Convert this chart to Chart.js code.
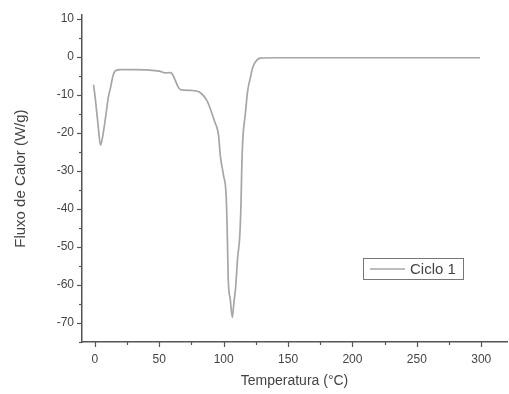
<!DOCTYPE html>
<html>
<head>
<meta charset="utf-8">
<script src="https://cdn.jsdelivr.net/npm/chart.js@4/dist/chart.umd.min.js"></script>
<style>
  html, body { margin: 0; padding: 0; background: #fff; }
  #wrap { width: 509px; height: 394px; }
</style>
</head>
<body>
<div id="wrap"><canvas id="dsc" width="509" height="394"></canvas></div>
<script>
// Curva DSC - ciclo 1
const temperatura = [-1, 0.5, 2.5, 4.4, 6, 8.3, 10.5, 12.2, 14, 16, 20, 30, 40, 50, 55, 58, 60, 62.6, 64.5, 66.4,
  70, 75, 78, 82, 87, 90, 93, 96, 97.4, 99.8, 102, 102.9, 103.5, 105.2, 106.7, 108, 109.3, 110.8, 112.5, 113.5,
  114, 114.8, 116.8, 118.6, 120.7, 122.5, 124.6, 128.4, 140, 200, 250, 299];
const fluxoCalor = [-7.3, -11.5, -18, -23.2, -21, -15.9, -10.5, -8, -5, -3.6, -3.3, -3.3, -3.4, -3.7, -4.2, -4.1, -4.4, -6.3, -7.8, -8.6,
  -8.7, -8.8, -8.9, -9.4, -11.5, -14, -17, -20.5, -26, -31, -37, -48, -58, -64, -68.5, -64.5, -60.6, -53, -47, -38,
  -30, -22, -15, -9, -5.5, -2.8, -1.3, -0.3, -0.2, -0.2, -0.2, -0.2];

const xTicks = [0, 50, 100, 150, 200, 250, 300];
const yTicks = [-70, -60, -50, -40, -30, -20, -10, 0, 10];

const axisColor = '#555';
const textColor = '#444';
const fontFamily = 'Arial, "Liberation Sans", sans-serif';

// marcas dos eixos (maiores e menores), para fora
const axisTicks = {
  id: 'axisTicks',
  afterDraw(chart) {
    const { ctx, chartArea, scales: { x, y } } = chart;
    ctx.save();
    ctx.strokeStyle = axisColor;
    ctx.lineWidth = 1.2;
    const mark = (x0, y0, x1, y1) => {
      ctx.beginPath(); ctx.moveTo(x0, y0); ctx.lineTo(x1, y1); ctx.stroke();
    };
    const xStep = xTicks[1] - xTicks[0];
    for (let v = xTicks[0] - xStep / 2; v <= x.max; v += xStep / 2) {
      if (v < x.min) continue;
      const px = Math.round(x.getPixelForValue(v)) + 0.5;
      const len = xTicks.includes(v) ? 5 : 3;
      mark(px, chartArea.bottom, px, chartArea.bottom + len);
    }
    const yStep = yTicks[1] - yTicks[0];
    for (let v = yTicks[0] - yStep / 2; v <= y.max; v += yStep / 2) {
      if (v < y.min) continue;
      const py = Math.round(y.getPixelForValue(v)) + 0.5;
      const len = yTicks.includes(v) ? 5 : 3;
      mark(chartArea.left, py, chartArea.left - len, py);
    }
    ctx.restore();
  }
};

// legenda dentro da área do gráfico
const boxLegend = {
  id: 'boxLegend',
  afterDraw(chart) {
    const { ctx } = chart;
    const ds = chart.data.datasets[0];
    const bx = 363, by = 258, bw = 100, bh = 21;
    ctx.save();
    ctx.strokeStyle = '#777';
    ctx.lineWidth = 1;
    ctx.strokeRect(bx + 0.5, by + 0.5, bw, bh);
    ctx.strokeStyle = ds.borderColor;
    ctx.lineWidth = ds.borderWidth;
    ctx.beginPath();
    ctx.moveTo(bx + 7, by + 11);
    ctx.lineTo(bx + 42, by + 11);
    ctx.stroke();
    ctx.fillStyle = textColor;
    ctx.font = '15px ' + fontFamily;
    ctx.textBaseline = 'middle';
    ctx.fillText(ds.label, bx + 47, by + 12);
    ctx.restore();
  }
};

new Chart(document.getElementById('dsc'), {
  type: 'line',
  data: {
    datasets: [{
      label: 'Ciclo 1',
      data: temperatura.map((t, i) => ({ x: t, y: fluxoCalor[i] })),
      borderColor: '#a6a6a6',
      borderWidth: 1.7,
      pointRadius: 0,
      cubicInterpolationMode: 'monotone',
      fill: false
    }]
  },
  options: {
    responsive: false,
    animation: false,
    layout: { padding: { left: 0, top: 12, right: 2, bottom: 0 } },
    plugins: {
      legend: { display: false },
      tooltip: { enabled: false }
    },
    scales: {
      x: {
        type: 'linear',
        min: -10,
        max: 320,
        afterBuildTicks: scale => { scale.ticks = xTicks.map(v => ({ value: v })); },
        afterFit: scale => { scale.height = 52; },
        grid: { display: false, drawTicks: false },
        border: { display: true, color: axisColor, width: 1.5 },
        ticks: { color: textColor, padding: 10, maxRotation: 0, font: { size: 12, family: fontFamily } },
        title: {
          display: true,
          text: 'Temperatura (°C)',
          color: textColor,
          padding: 4,
          font: { size: 14, family: fontFamily }
        }
      },
      y: {
        min: -75,
        max: 11,
        afterBuildTicks: scale => { scale.ticks = yTicks.map(v => ({ value: v })); },
        afterFit: scale => { scale.width = 82; },
        grid: { display: false, drawTicks: false },
        border: { display: true, color: axisColor, width: 1.5 },
        ticks: { color: textColor, padding: 8, font: { size: 12, family: fontFamily } },
        title: {
          display: true,
          text: 'Fluxo de Calor (W/g)',
          color: textColor,
          padding: { top: 12, bottom: 0 },
          font: { size: 15, family: fontFamily }
        }
      }
    }
  },
  plugins: [axisTicks, boxLegend]
});
</script>
</body>
</html>
